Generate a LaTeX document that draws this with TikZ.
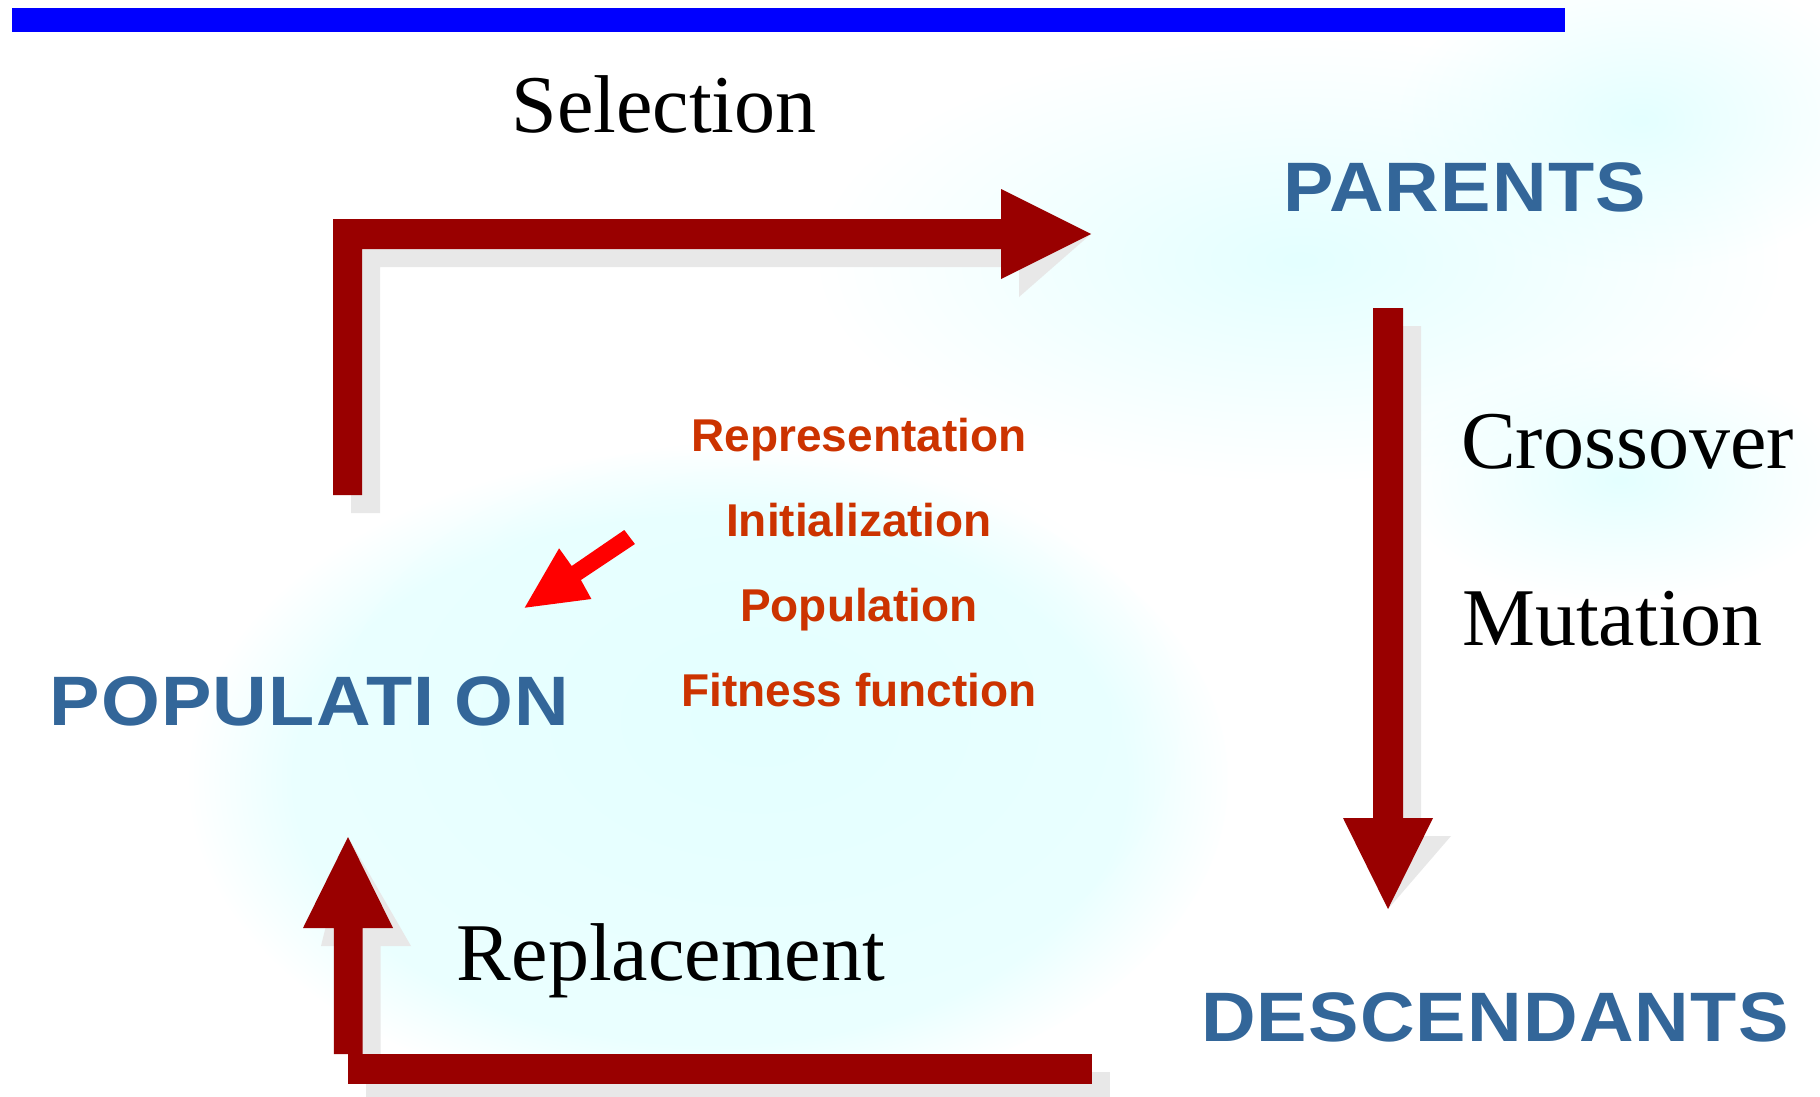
\documentclass[tikz,border=0pt]{standalone}
\usepackage{fontspec}
\setmainfont{Liberation Serif}
\newfontfamily\stagefont[LetterSpace=1.7, FakeStretch=1.08]{Liberation Sans}
\newfontfamily\notefont{Liberation Sans}
\usetikzlibrary{fadings}

\definecolor{arrowred}{HTML}{990000}
\definecolor{shadowgray}{HTML}{E8E8E8}
\definecolor{stageblue}{HTML}{336699}
\definecolor{noteorange}{HTML}{CC3300}
\definecolor{barblue}{HTML}{0000FF}
\definecolor{pointerred}{HTML}{FF0000}
\definecolor{wash}{HTML}{E4FFFF}

\tikzfading[name=washfade, inner color=transparent!0, outer color=transparent!100]

\tikzset{
  wash/.style={fill=wash, path fading=washfade},
  broadwash/.style={fill=wash, fill opacity=0.75, path fading=circle with fuzzy edge 20 percent},
  blockarrow/.style={fill=arrowred},
  blockshadow/.style={fill=shadowgray, shift={(18,18)}},
  opname/.style={inner sep=0pt, font=\fontsize{82}{98}\selectfont, text=black},
  stagename/.style={inner sep=0pt, font=\stagefont\bfseries\fontsize{70}{84}\selectfont, text=stageblue},
  notetext/.style={inner sep=0pt, anchor=base, font=\notefont\bfseries\fontsize{46}{55}\selectfont, text=noteorange},
}

\begin{document}
\begin{tikzpicture}[x=1pt,y=-1pt]
  % page
  \fill[white] (0,0) rectangle (1820,1097);
  \useasboundingbox (0,0) rectangle (1820,1097);

  % soft cyan background wash
  \fill[broadwash] (710,780) ellipse (520 and 330);
  \fill[wash] (760,720) ellipse (420 and 280);
  \fill[wash] (1300,260) ellipse (480 and 220);
  \fill[wash] (1640,120) ellipse (240 and 150);
  \fill[wash] (1620,480) ellipse (220 and 120);

  % title rule
  \fill[barblue] (11.6,8) rectangle (1565,32);

  % key points of the loop
  \coordinate (selTip)  at (1091,234);
  \coordinate (varTip)  at (1388,909);
  \coordinate (repTip)  at (348,837);

  % shadows of the block arrows
  \begin{scope}[blockshadow]
    \fill (333,219) -- (1001,219) -- (1001,189) -- (selTip) -- (1001,279)
          -- (1001,249) -- (362,249) -- (362,495) -- (333,495) -- cycle;
    \fill (1373,308) -- (1403,308) -- (1403,818) -- (1433,818) -- (varTip)
          -- (1343,818) -- (1373,818) -- cycle;
    \fill (347.6,1054) rectangle (1091.6,1084);
    \fill (333.8,1054) -- (333.8,928) -- (303,928) -- (repTip) -- (393,928)
          -- (362.5,928) -- (362.5,1054) -- cycle;
  \end{scope}

  % Selection: population -> parents
  \fill[blockarrow] (333,219) -- (1001,219) -- (1001,189) -- (selTip) -- (1001,279)
        -- (1001,249) -- (362,249) -- (362,495) -- (333,495) -- cycle;
  % Crossover / Mutation: parents -> descendants
  \fill[blockarrow] (1373,308) -- (1403,308) -- (1403,818) -- (1433,818) -- (varTip)
        -- (1343,818) -- (1373,818) -- cycle;
  % Replacement: descendants -> population
  \fill[blockarrow] (347.6,1054) rectangle (1091.6,1084);
  \fill[blockarrow] (333.8,1054) -- (333.8,928) -- (303,928) -- (repTip) -- (393,928)
        -- (362.5,928) -- (362.5,1054) -- cycle;

  % pointer from the design notes to the population
  \coordinate (pointerTip) at (524.7,607.7);
  \fill[pointerred] (624.3,530) -- (634.9,544) -- (580.9,580) -- (591.4,599)
        -- (pointerTip) -- (559.1,548.3) -- (571.7,566) -- cycle;

  % stage names
  \node[stagename, anchor=base west] (parents) at (1283,211.7) {PARENTS};
  \node[stagename, anchor=base west] (population) at (49.5,725) {POPULATI\kern20pt ON};
  \node[stagename, anchor=base west] (descendants) at (1201,1041) {DESCENDANTS};

  % operators
  \node[opname, anchor=base] (selection) at (664,133) {Selection};
  \node[opname, anchor=base west] (crossover) at (1461,468) {Crossover};
  \node[opname, anchor=base west] (mutation) at (1462,645) {Mutation};
  \node[opname, anchor=base] (replacement) at (671,980) {Replacement};

  % design notes
  \node[notetext] (representation) at (859,451.7) {Representation};
  \node[notetext] (initialization) at (859,536.7) {Initialization};
  \node[notetext] (popnote) at (859,621) {Population};
  \node[notetext] (fitness) at (859,706) {Fitness function};
\end{tikzpicture}
\end{document}
